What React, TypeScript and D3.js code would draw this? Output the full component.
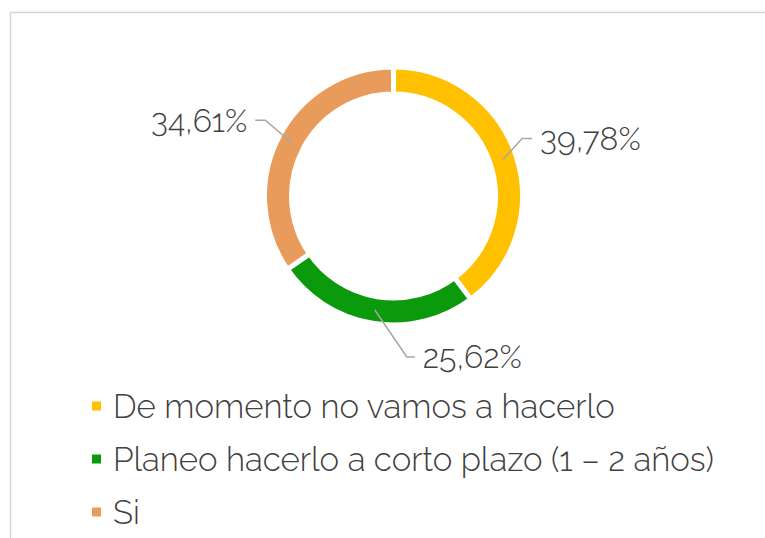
import React from "react";
import * as d3 from "d3";

const categories = [
  "De momento no vamos a hacerlo",
  "Planeo hacerlo a corto plazo (1 – 2 años)",
  "Si",
];
const values = [39.78, 25.62, 34.61];
const valueLabels = ["39,78%", "25,62%", "34,61%"];
const colors = ["#FFC000", "#0B9A0B", "#E99B5B"];

const W = 765;
const H = 538;
const cx = 393.5;
const cy = 196;
const outerR = 129;
const innerR = 102;

// leader elbow offsets (layout only)
const elbows = [
  { dx: 19, dy: -21, hx: 10, anchor: "start" },
  { dx: 32, dy: 47, hx: 8, anchor: "start" },
  { dx: -26, dy: -22, hx: -10, anchor: "end" },
];

export default function App() {
  const pie = d3.pie<number>().sort(null).value((d) => d);
  const arcs = pie(values);
  const arc = d3.arc<d3.PieArcDatum<number>>().innerRadius(innerR).outerRadius(outerR);
  const midR = (innerR + outerR) / 2;
  const font = "Raleway, Lato, 'Open Sans', sans-serif";

  return (
    <svg
      width={W}
      height={H}
      style={{ position: "fixed", left: 0, top: 0, background: "#fff" }}
    >
      <line x1={10.5} y1={12.5} x2={W} y2={12.5} stroke="#d6d6d6" strokeWidth={1.5} />
      <line x1={10.5} y1={12.5} x2={10.5} y2={H} stroke="#d6d6d6" strokeWidth={1.5} />
      <g transform={`translate(${cx},${cy})`}>
        {arcs.map((a, i) => (
          <path key={i} d={arc(a) || ""} fill={colors[i]} stroke="#fff" strokeWidth={5} />
        ))}
        {arcs.map((a, i) => {
          const mid = (a.startAngle + a.endAngle) / 2;
          const x0 = Math.sin(mid) * midR;
          const y0 = -Math.cos(mid) * midR;
          const e = elbows[i];
          const x1 = x0 + e.dx;
          const y1 = y0 + e.dy;
          const x2 = x1 + e.hx;
          const tx = x2 + (e.anchor === "start" ? 8 : -8);
          return (
            <g key={"l" + i}>
              <polyline
                points={`${x0},${y0} ${x1},${y1} ${x2},${y1}`}
                fill="none"
                stroke="#a6a6a6"
                strokeWidth={1.5}
              />
              <text
                x={tx}
                y={y1}
                dominantBaseline="central"
                textAnchor={e.anchor}
                fontFamily={font}
                fontSize={32}
                fontWeight={300}
                fill="#404040"
              >
                {valueLabels[i]}
              </text>
            </g>
          );
        })}
      </g>
      <g>
        {categories.map((c, i) => {
          const y = 406 + i * 53;
          return (
            <g key={"g" + i}>
              <rect x={92} y={y - 4.5} width={9} height={9} fill={colors[i]} />
              <text
                x={113}
                y={y}
                dominantBaseline="central"
                fontFamily={font}
                fontSize={33}
                fontWeight={300}
                fill="#404040"
              >
                {c}
              </text>
            </g>
          );
        })}
      </g>
    </svg>
  );
}
